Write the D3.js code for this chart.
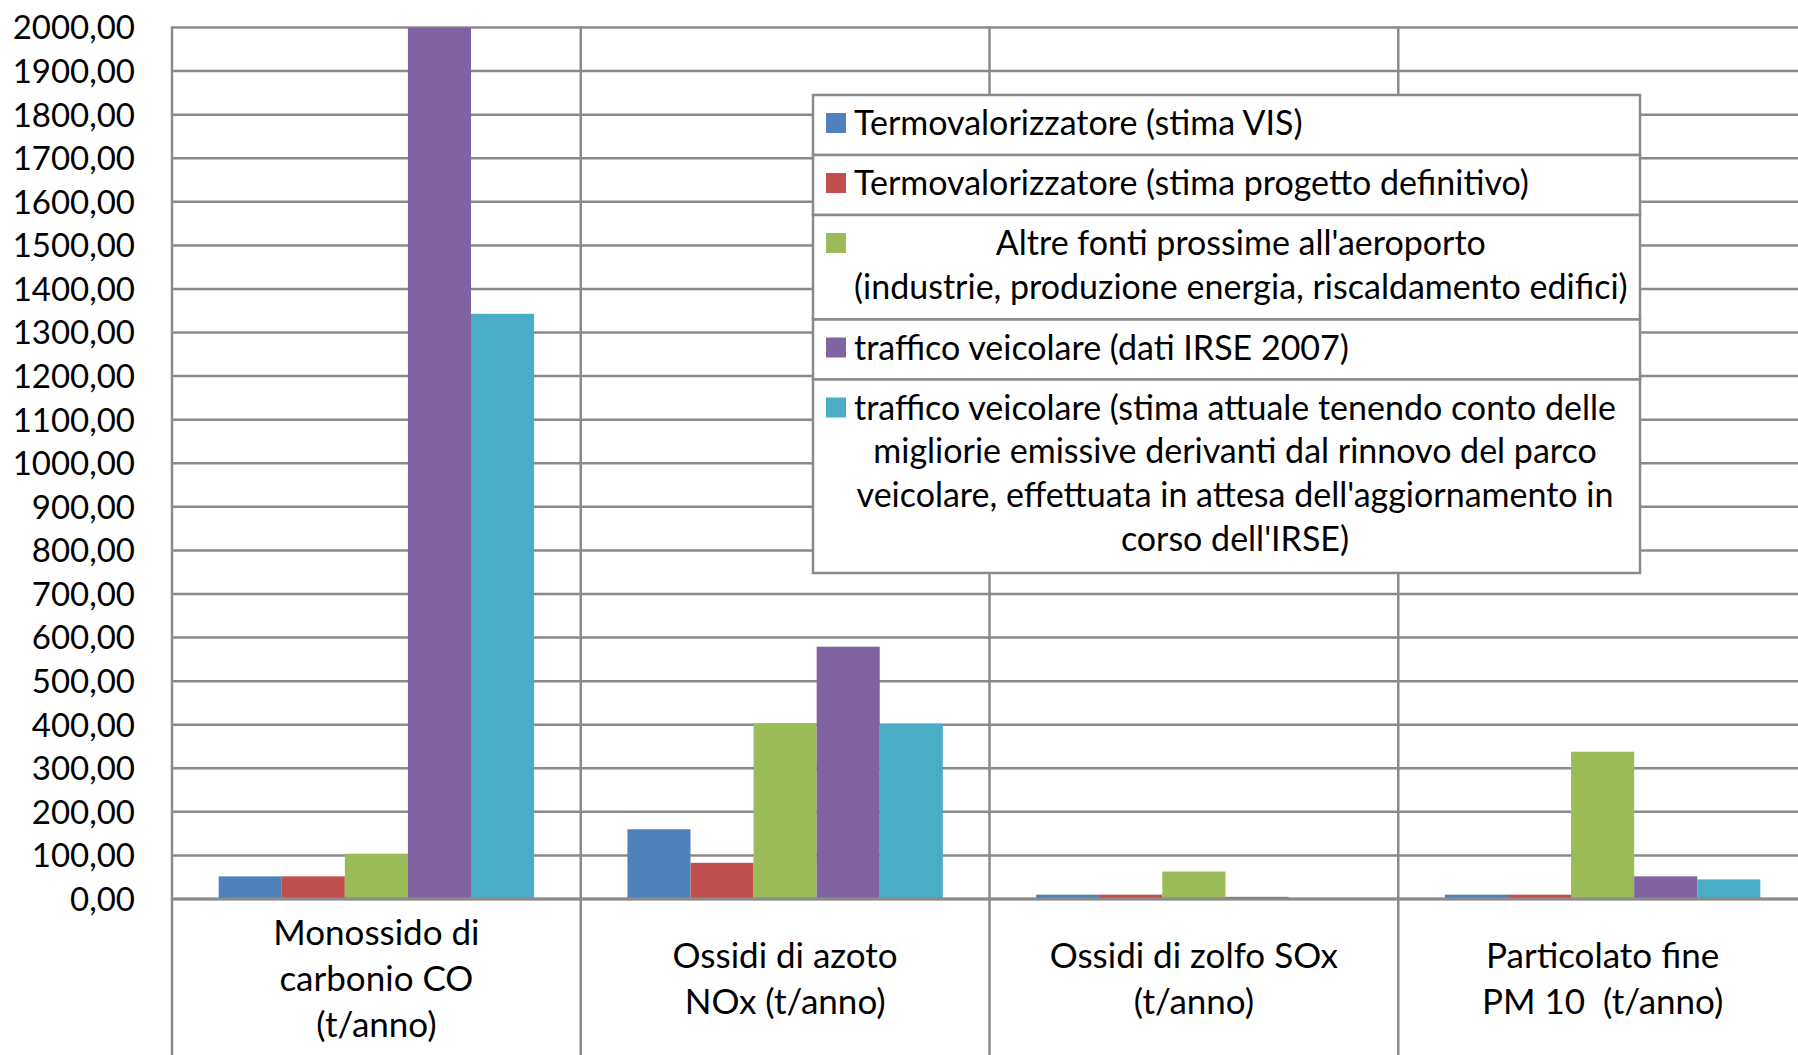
<!DOCTYPE html>
<html>
<head>
<meta charset="utf-8">
<script src="https://cdn.jsdelivr.net/npm/d3@7"></script>
<style>
  body { margin: 0; background: #fff; }
  svg text { font-family: Lato, "Open Sans", sans-serif; fill: #000; white-space: pre; }
</style>
</head>
<body>
<div id="chart"></div>
<script>
// categories (one entry per group, split into the lines shown under the axis)
const categories = [
    ["Monossido di", "carbonio CO", "(t/anno)"],
    ["Ossidi di azoto", "NOx (t/anno)"],
    ["Ossidi di zolfo SOx", "(t/anno)"],
    ["Particolato fine", "PM 10  (t/anno)"]
];

// series values, t/anno, one per category
const termoVIS = [52, 160, 10, 10];
const termoProgetto = [52, 83, 10, 10];
const altreFonti = [104, 403, 63, 338];
const trafficoIRSE = [2000, 579, 5, 52];
const trafficoAttuale = [1343, 402, 1, 45];

const seriesLabels = [
    ["Termovalorizzatore (stima VIS)"],
    ["Termovalorizzatore (stima progetto definitivo)"],
    ["Altre fonti prossime all'aeroporto", "(industrie, produzione energia, riscaldamento edifici)"],
    ["traffico veicolare (dati IRSE 2007)"],
    ["traffico veicolare (stima attuale tenendo conto delle", "migliorie emissive derivanti dal rinnovo del parco", "veicolare, effettuata in attesa dell'aggiornamento in", "corso dell'IRSE)"]
];
const seriesColors = ["#4F81BD", "#C0504D", "#9BBB59", "#8064A2", "#4BACC6"];

const yTicks = [0, 100, 200, 300, 400, 500, 600, 700, 800, 900, 1000,
    1100, 1200, 1300, 1400, 1500, 1600, 1700, 1800, 1900, 2000];

const series = [termoVIS, termoProgetto, altreFonti, trafficoIRSE, trafficoAttuale];

const svgWidth = 1798;
const svgHeight = 1055;
const plot = { left: 172, right: 1807, top: 27.5, zero: 899 };
const gridColor = "#8a8a8a";

const svg = d3.select("#chart")
    .append("svg")
    .attr("width", svgWidth)
    .attr("height", svgHeight);

const x0 = d3.scaleBand()
    .domain(d3.range(categories.length))
    .range([plot.left, plot.right]);

const x1 = d3.scaleBand()
    .domain(d3.range(series.length))
    .range([0, x0.bandwidth()])
    .paddingOuter(0.74);

const y = d3.scaleLinear()
    .domain([0, 2000])
    .range([plot.zero, plot.top]);

const itFormat = d3.formatLocale({ decimal: ",", thousands: "", grouping: [3], currency: ["", ""] }).format(".2f");

// horizontal gridlines
svg.append("g")
    .selectAll("line")
    .data(yTicks)
    .enter()
    .append("line")
    .attr("x1", plot.left)
    .attr("x2", svgWidth)
    .attr("y1", d => y(d))
    .attr("y2", d => y(d))
    .attr("stroke", gridColor)
    .attr("stroke-width", 2.5);

// vertical lines between categories
svg.append("g")
    .selectAll("line")
    .data(d3.range(categories.length + 1))
    .enter()
    .append("line")
    .attr("x1", i => i < categories.length ? x0(i) : plot.right)
    .attr("x2", i => i < categories.length ? x0(i) : plot.right)
    .attr("y1", plot.top - 1.25)
    .attr("y2", svgHeight)
    .attr("stroke", gridColor)
    .attr("stroke-width", 2.5);

// bars
const groups = svg.append("g")
    .selectAll("g")
    .data(categories)
    .enter()
    .append("g")
    .attr("transform", (d, i) => `translate(${x0(i)},0)`);

groups.selectAll("rect")
    .data((d, i) => series.map((s, k) => ({ k: k, v: s[i] })))
    .enter()
    .append("rect")
    .attr("x", d => x1(d.k))
    .attr("width", x1.bandwidth())
    .attr("y", d => y(d.v))
    .attr("height", d => y(0) - y(d.v))
    .attr("fill", d => seriesColors[d.k]);

// zero axis line
svg.append("line")
    .attr("x1", plot.left)
    .attr("x2", svgWidth)
    .attr("y1", y(0))
    .attr("y2", y(0))
    .attr("stroke", gridColor)
    .attr("stroke-width", 3);

// y tick labels
svg.append("g")
    .selectAll("text")
    .data(yTicks)
    .enter()
    .append("text")
    .attr("x", 135)
    .attr("y", d => y(d))
    .attr("dy", "0.36em")
    .attr("text-anchor", "end")
    .attr("font-size", 33)
    .text(d => itFormat(d));

// category labels
const lineH = 46;
const labelMid = 978;
categories.forEach((lines, i) => {
    const cx = x0(i) + x0.bandwidth() / 2;
    const t = svg.append("text")
        .attr("text-anchor", "middle")
        .attr("font-size", 35);
    lines.forEach((ln, j) => {
        t.append("tspan")
            .attr("x", cx)
            .attr("y", labelMid + (j - (lines.length - 1) / 2) * lineH)
            .attr("dy", "0.36em")
            .text(ln);
    });
});

// legend
const legend = svg.append("g");
const legLeft = 813, legRight = 1640, legTop = 95;
const legLine = 43.6;
const textLeft = 854;
let rowTop = legTop;
seriesLabels.forEach((lines, k) => {
    const rowH = 60 + (lines.length - 1) * 44.5;
    legend.append("rect")
        .attr("x", legLeft)
        .attr("y", rowTop)
        .attr("width", legRight - legLeft)
        .attr("height", rowH)
        .attr("fill", "#fff")
        .attr("stroke", gridColor)
        .attr("stroke-width", 2.5);

    legend.append("rect")
        .attr("x", 826)
        .attr("y", rowTop + 28 - 10)
        .attr("width", 20)
        .attr("height", 20)
        .attr("fill", seriesColors[k]);

    const texts = lines.map((ln, j) => legend.append("text")
        .attr("y", rowTop + 28 + j * legLine)
        .attr("dy", "0.36em")
        .attr("font-size", 34)
        .text(ln));
    const maxW = d3.max(texts, t => t.node().getComputedTextLength());
    texts.forEach(t => t.attr("x", textLeft + maxW / 2).attr("text-anchor", "middle"));

    rowTop += rowH;
});
</script>
</body>
</html>
